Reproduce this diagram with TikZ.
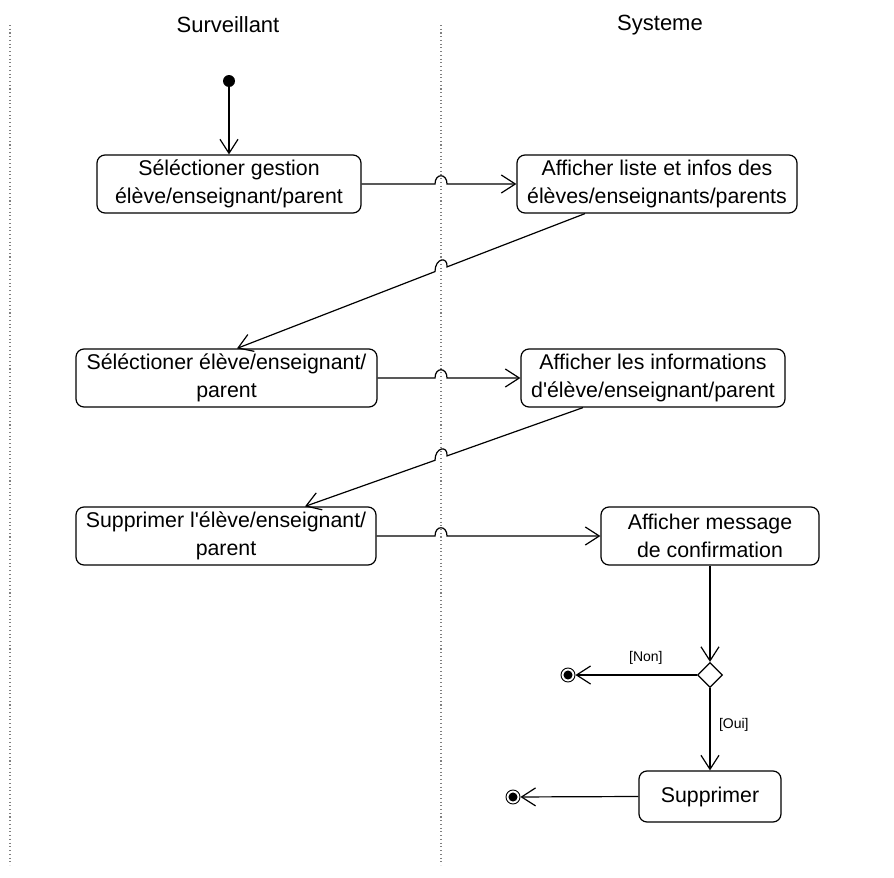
\documentclass[tikz,border=0pt]{standalone}
\usepackage{fontspec}
\setmainfont{Liberation Sans}
\usetikzlibrary{arrows.meta,shapes.geometric}
\begin{document}
\begin{tikzpicture}[x=0.75pt,y=-0.75pt,
  act/.style={draw,rounded corners=6pt,line width=0.9pt,align=center,
    font=\fontsize{16}{21}\selectfont,inner sep=0pt,minimum height=43.5pt},
  flow/.style={line width=0.9pt,-{Straight Barb[length=10.5pt,width=13.5pt,line width=0.9pt]}},
  lane/.style={draw=gray,dotted,line width=0.8pt},
  head/.style={font=\fontsize{16.5}{20}\selectfont},
  guard/.style={font=\fontsize{10.5}{12}\selectfont},
  finalnode/.style={circle,draw,line width=0.7pt,minimum size=10.5pt,inner sep=0pt},
  initnode/.style={circle,fill,minimum size=9pt,inner sep=0pt},
  decision/.style={diamond,draw,line width=0.9pt,minimum width=18.75pt,minimum height=18.75pt,inner sep=0pt,fill=white}]
\useasboundingbox (0,0) rectangle (894,878);
% swimlanes
\draw[lane] (10,25) -- (10,865);
\draw[lane] (441,25) -- (441,865);
\node[head] (h1) at (228,25) {Surveillant};
\node[head] (h2) at (660,25) {Systeme};
% nodes
\node[initnode] (init) at (229,81) {};
\node[act,minimum width=198pt] (b1) at (229,184) {Séléctioner gestion\\élève/enseignant/parent};
\node[act,minimum width=210pt] (b2) at (657,184) {Afficher liste et infos des\\élèves/enseignants/parents};
\node[act,minimum width=225.75pt] (b3) at (226.5,378) {Séléctioner élève/enseignant/\\parent};
\node[act,minimum width=198pt] (b4) at (653,378) {Afficher les informations\\d\textquotesingle élève/enseignant/parent};
\node[act,minimum width=225pt] (b5) at (226,536) {Supprimer l\textquotesingle élève/enseignant/\\parent};
\node[act,minimum width=163.5pt] (b6) at (710,536) {Afficher message\\de confirmation};
\node[decision] (dec) at (710,675) {};
\node[act,minimum width=106.5pt,minimum height=38.25pt] (b7) at (710,796.5) {Supprimer};
\node[finalnode] (f1) at (568,675) {};
\fill (f1) circle[radius=3.4pt];
\node[finalnode] (f2) at (513,797) {};
\fill (f2) circle[radius=3.4pt];
% connectors
\draw[flow] (init) -- (b1.north);
\draw[flow] (b1.east) -- (435,184) .. controls (435,173) and (447,173) .. (447,184) -- (b2.west);
\draw[flow] (585,0 |- b2.south) -- (447,266.9) .. controls (448,256) and (435,258) .. (435,271.6) -- (237,0 |- b3.north);
\draw[flow] (b3.east) -- (435,378) .. controls (435,367) and (447,367) .. (447,378) -- (b4.west);
\draw[flow] (583,0 |- b4.south) -- (447,455.9) .. controls (448,445) and (435,447) .. (435,460.3) -- (305,0 |- b5.north);
\draw[flow] (b5.east) -- (435,536) .. controls (435,525) and (447,525) .. (447,536) -- (b6.west);
\draw[flow] (b6.south) -- (dec.north);
\draw[flow] (dec.west) -- node[guard,pos=0.42,above=4pt] {[Non]} (f1);
\draw[flow] (dec.south) -- node[guard,pos=0.45,right=3pt] {[Oui]} (b7.north);
\draw[flow] (b7.west) -- (f2);
\end{tikzpicture}
\end{document}
